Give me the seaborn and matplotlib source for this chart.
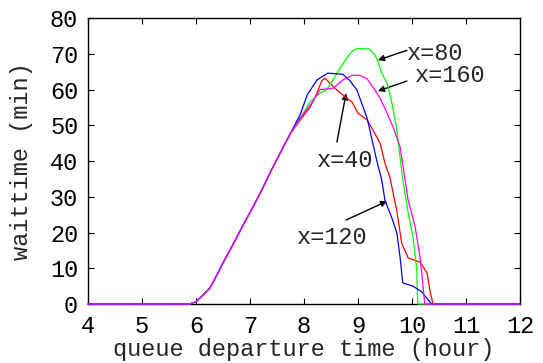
import numpy as np
import pandas as pd
import matplotlib
matplotlib.use("Agg")
import matplotlib.pyplot as plt
import seaborn as sns

# shared rising part (all four runs sit on top of each other here)
RAMP_T = [4.0, 5.88, 6.0, 6.13, 6.26, 6.4, 6.5, 6.68, 6.87, 7.05, 7.22, 7.38, 7.5, 7.62, 7.74]
RAMP_W = [0.0, 0.0, 0.6, 2.5, 4.5, 8.5, 11.5, 16.5, 22.0, 27.0, 31.9, 37.0, 40.5, 44.0, 47.5]

# x=40 (red)
T40 = [7.93, 8.11, 8.24, 8.33, 8.39, 8.5, 8.61, 8.76, 8.89, 9.0, 9.17, 9.31, 9.41,
       9.5, 9.59, 9.72, 9.81, 9.93, 10.15, 10.28, 10.33, 10.39, 12.0]
W40 = [51.5, 55.0, 59.0, 62.5, 63.2, 61.5, 59.9, 58.0, 56.5, 53.4, 51.5, 47.8, 45.0,
       39.4, 35.5, 26.0, 17.0, 12.9, 11.7, 8.7, 3.9, 0.0, 0.0]

# x=80 (green)
T80 = [7.93, 8.11, 8.3, 8.42, 8.54, 8.67, 8.8, 8.91, 9.0, 9.1, 9.22, 9.3, 9.37, 9.44,
       9.54, 9.63, 9.72, 9.78, 9.83, 9.93, 10.02, 10.09, 10.1, 10.11, 12.0]
W80 = [52.0, 56.5, 59.0, 60.0, 62.7, 66.0, 69.0, 71.0, 71.5, 71.5, 71.3, 70.0, 68.0, 64.6,
       61.8, 56.2, 48.7, 41.0, 34.7, 25.5, 18.7, 9.5, 3.0, 0.0, 0.0]

# x=120 (blue)
T120 = [7.93, 8.06, 8.24, 8.44, 8.72, 8.85, 8.98, 9.17, 9.35, 9.44, 9.5, 9.63, 9.72,
        9.78, 9.83, 10.02, 10.18, 10.33, 10.37, 12.0]
W120 = [53.0, 58.5, 62.7, 64.6, 64.3, 62.5, 59.9, 52.0, 40.0, 34.7, 29.0, 24.0, 19.9,
        13.0, 5.9, 5.0, 3.4, 0.6, 0.0, 0.0]

# x=160 (magenta)
T160 = [7.93, 8.11, 8.3, 8.54, 8.72, 8.89, 9.04, 9.17, 9.31, 9.41, 9.54, 9.65, 9.78,
        9.85, 9.93, 10.06, 10.15, 10.2, 10.23, 10.24, 12.0]
W160 = [52.0, 55.5, 60.0, 60.4, 62.7, 64.0, 64.0, 63.0, 60.0, 57.6, 53.4, 49.5, 44.0,
        37.0, 29.0, 21.5, 13.0, 5.9, 1.0, 0.0, 0.0]

SERIES = ["x=40", "x=80", "x=120", "x=160"]
COLORS = {"x=40": "#ff0000", "x=80": "#00ff00", "x=120": "#0000ff", "x=160": "#ff00ff"}

frames = []
for name, t, w in [("x=40", T40, W40), ("x=80", T80, W80),
                   ("x=120", T120, W120), ("x=160", T160, W160)]:
    frames.append(pd.DataFrame({"t": RAMP_T + t, "w": RAMP_W + w, "run": name}))
df = pd.concat(frames, ignore_index=True)

FS = 17

sns.set_style("ticks")
plt.rcParams["font.family"] = ["Liberation Mono", "DejaVu Sans Mono"]
plt.rcParams["font.size"] = FS

fig = plt.figure(figsize=(5.43, 3.63), dpi=100)
ax = fig.add_axes([0.162, 0.1625, 0.7956, 0.7875])

sns.lineplot(data=df, x="t", y="w", hue="run", hue_order=SERIES, palette=COLORS,
             estimator=None, sort=False, linewidth=0.9, legend=False, ax=ax)
for ln in ax.get_lines():
    ln.set_clip_on(False)
    ln.set_zorder(5)

ax.set_xlim(4, 12)
ax.set_ylim(0, 80)
ax.set_xticks(range(4, 13))
ax.set_yticks(range(0, 81, 10))
ax.tick_params(direction="in", top=True, right=True, length=4, width=0.8,
               labelsize=FS, colors="black")
ax.tick_params(axis="x", pad=8)
ax.tick_params(axis="y", pad=7)
for sp in ax.spines.values():
    sp.set_visible(True)
    sp.set_linewidth(1.0)
    sp.set_color("black")

ax.set_xlabel("queue departure time (hour)", fontsize=FS, labelpad=0)
ax.set_ylabel("waittime (min)", fontsize=FS, labelpad=12)

arrow = dict(arrowstyle="-|>", color="black", lw=1.0, mutation_scale=9,
             shrinkA=0, shrinkB=0)
ax.annotate("", xy=(9.37, 68.25), xytext=(9.907, 71.0), arrowprops=arrow)
ax.text(9.907, 70.2, "x=80", ha="left", va="center", fontsize=FS)
ax.annotate("", xy=(9.37, 59.6), xytext=(9.907, 62.4), arrowprops=arrow)
ax.text(10.056, 64.05, "x=160", ha="left", va="center", fontsize=FS)
ax.annotate("", xy=(8.78, 59.0), xytext=(8.61, 45.3), arrowprops=arrow)
ax.text(8.24, 40.3, "x=40", ha="left", va="center", fontsize=FS)
ax.annotate("", xy=(9.54, 28.8), xytext=(8.78, 23.5), arrowprops=arrow)
ax.text(7.87, 18.5, "x=120", ha="left", va="center", fontsize=FS)

fig.savefig("out.png", dpi=100)
